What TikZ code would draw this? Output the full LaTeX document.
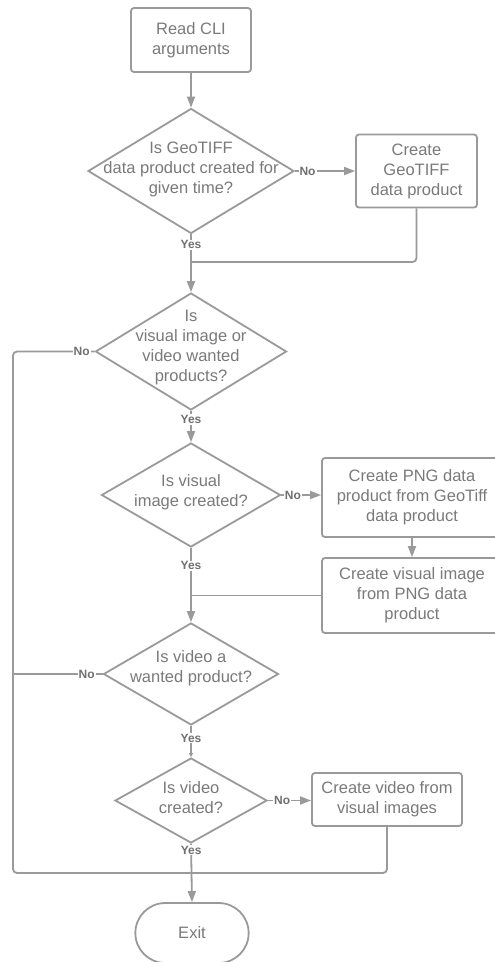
\documentclass[tikz,border=0pt]{standalone}
\usepackage{fontspec}
\setmainfont{Liberation Sans}
\usetikzlibrary{shapes.geometric,shapes.misc,arrows.meta}
\definecolor{ln}{HTML}{9A9A9A}
\definecolor{tx}{HTML}{7A7A7A}
\definecolor{lb}{HTML}{707070}
\begin{document}
\begin{tikzpicture}[x=1pt,y=-1pt,
  txt/.style={text=tx,font=\fontsize{16.5}{20}\selectfont,align=center},
  box/.style={draw=ln,line width=1.8pt,rounded corners=3pt,txt,inner sep=0pt},
  dec/.style={diamond,draw=ln,line width=1.8pt,inner sep=0pt},
  con/.style={draw=ln,line width=1.8pt},
  arr/.style={con,-{Triangle[length=11pt,width=8pt]}},
  lbl/.style={text=lb,font=\fontsize{12}{12}\selectfont\bfseries,fill=white,inner sep=1pt},
]
\useasboundingbox (0,0) rectangle (495,962);
\fill[white] (0,0) rectangle (495,962);
\clip (0,0) rectangle (495,962);

% nodes
\node[box,minimum width=120,minimum height=64] (read) at (191,40) {Read CLI\\arguments};
\node[dec,minimum width=206,minimum height=125,
  label={[txt,yshift=1.5pt]center:Is GeoTIFF\\data product created for\\given time?}] (d1) at (191,171) {};
\node[box,minimum width=121,minimum height=73] (g1) at (416.5,171) {Create\\GeoTIFF\\data product};
\node[dec,minimum width=191,minimum height=117,
  label={[txt,yshift=4pt]center:Is\\visual image or\\video wanted\\products?}] (d2) at (191,351.5) {};
\node[dec,minimum width=179,minimum height=104,
  label={[txt,yshift=3pt]center:Is visual\\image created?}] (d3) at (191,495) {};
\node[box,minimum width=180,minimum height=79] (png) at (412,497.5) {Create PNG data\\product from GeoTiff\\data product};
\node[box,minimum width=180,minimum height=75] (vis) at (412,595.5) {Create visual image\\from PNG data\\product};
\node[dec,minimum width=175,minimum height=102,
  label={[txt,yshift=6pt]center:Is video a\\wanted product?}] (d4) at (191,674) {};
\node[dec,minimum width=152,minimum height=85,
  label={[txt,yshift=2.5pt]center:Is video\\created?}] (d5) at (191,800.5) {};
\node[box,minimum width=150,minimum height=53] (vid) at (387,799.5) {Create video from\\visual images};
\node[rounded rectangle,draw=ln,line width=1.8pt,minimum width=120,minimum height=60,txt] (exit) at (192,933) {Exit};

\coordinate (j1) at (191,262);
\coordinate (c1) at (13,873);

% connectors
\draw[arr] (read.south) -- (d1.north);
\draw[arr] (d1.east) -- node[lbl,pos=0.21]{No} (g1.west);
\draw[con,rounded corners=4pt] (g1.south) |- (j1);
\draw[arr] (d1.south) -- node[lbl,pos=0.18]{Yes} (d2.north);

\draw[con,rounded corners=4pt] (d2.west) -| (c1) -| (vid.south);
\node[lbl] at ([xshift=-13pt]d2.west) {No};
\draw[con] (d4.west) -- (d4.west -| c1);
\node[lbl] at ([xshift=-16pt]d4.west) {No};

\draw[arr] (d2.south) -- node[lbl,pos=0.27]{Yes} (d3.north);
\draw[arr] (d3.east) -- node[lbl,pos=0.29]{No} (d3.east -| png.west);
\draw[arr] (png.south) -- (vis.north);
\draw[con,rounded corners=4pt] (vis.west) -- (vis.west -| d3.south);
\draw[arr] (d3.south) -- node[lbl,pos=0.24]{Yes} (d4.north);

\draw[con,-{Triangle[length=4pt,width=4pt]}] (d4.south) -- node[lbl,pos=0.39]{Yes} (d5.north);
\draw[arr] (d5.east) -- node[lbl,pos=0.33]{No} (d5.east -| vid.west);
\draw[arr] (d5.south) -- node[lbl,pos=0.11]{Yes} (exit.north);
\end{tikzpicture}
\end{document}
